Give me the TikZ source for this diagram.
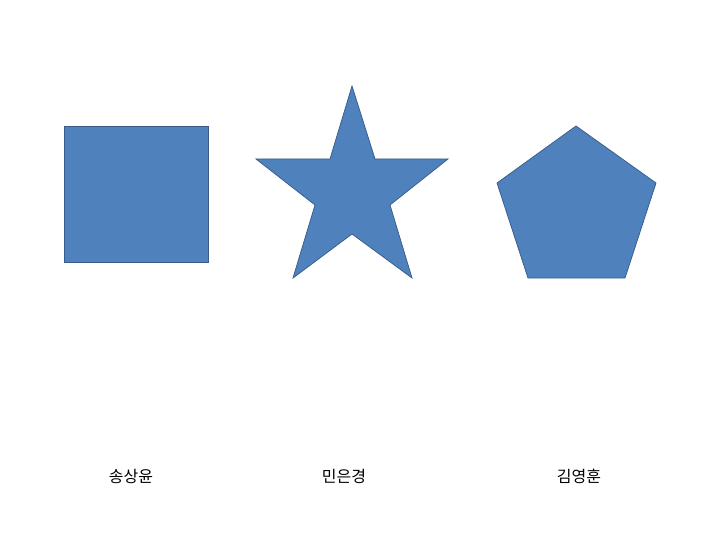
\documentclass[tikz,border=0pt]{standalone}
\usepackage{fontspec}
\newfontfamily\krfont{Noto Sans CJK KR}
\definecolor{shapefill}{HTML}{4F81BD}
\definecolor{shapeline}{HTML}{385D8A}
\tikzset{
  shapestyle/.style={fill=shapefill, draw=shapeline, line width=0.75pt, line join=miter},
  namelabel/.style={font=\krfont\fontsize{16}{18}\selectfont, inner sep=0pt, text=black}
}
\begin{document}
\begin{tikzpicture}[x=1pt,y=-1pt]
\useasboundingbox[fill=white] (0,0) rectangle (720,540);
% square
\path[shapestyle] (64,126) rectangle (208,262);
% star
\path[shapestyle] (352,86) -- (375,159) -- (448,159) -- (390,205) -- (412,278)
  -- (352,234) -- (293,278) -- (315,205) -- (256,159) -- (330,159) -- cycle;
% pentagon
\path[shapestyle] (576,126) -- (656,183) -- (625,278) -- (528,278) -- (497,183) -- cycle;
% labels
\node[namelabel] (n1) at (131,476) {송상윤};
\node[namelabel] (n2) at (344,476) {민은경};
\node[namelabel] (n3) at (579,476) {김영훈};
\end{tikzpicture}
\end{document}
